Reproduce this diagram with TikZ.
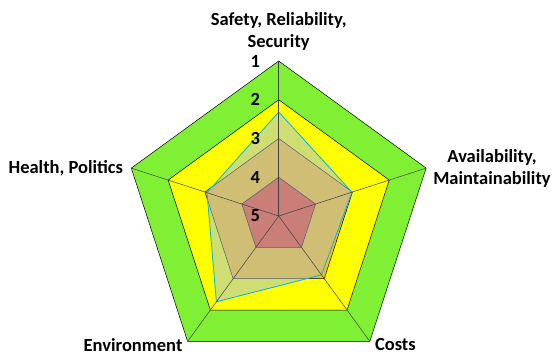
\documentclass[tikz,border=0pt]{standalone}
\usepackage{fontspec}
\setmainfont{Carlito}
\usetikzlibrary{positioning}
\definecolor{bandgreen}{RGB}{128,240,52}
\definecolor{bandyellow}{RGB}{255,255,0}
\definecolor{bandorange}{RGB}{255,192,0}
\definecolor{bandred}{RGB}{245,62,10}
\definecolor{datafill}{RGB}{160,190,230}
\definecolor{dataline}{RGB}{0,176,240}
\tikzset{
  band/.style={draw=black, line width=0.5pt, line join=miter},
  spoke/.style={draw=black!75, line width=0.5pt},
  datapoly/.style={draw=dataline, line width=0.8pt, fill=datafill, fill opacity=0.5},
  axislabel/.style={font=\fontsize{18.5}{22}\selectfont\bfseries, align=center, inner sep=0pt},
  scalenum/.style={font=\fontsize{18.5}{22}\selectfont\bfseries, inner sep=0pt}
}

\begin{document}
\begin{tikzpicture}[x=1pt,y=1pt]
    \useasboundingbox (-278.7,-140) rectangle (274.3,216);

    % level bands, outside in
    \foreach \r/\c in {155/bandgreen, 116.25/bandyellow, 77.5/bandorange, 38.75/bandred}
      \draw[band, fill=\c] (90:\r) -- (18:\r) -- (-54:\r) -- (-126:\r) -- (162:\r) -- cycle;

    % scored profile
    \draw[datapoly] (90:104) -- (18:77) -- (-54:72.8) -- (-126:106) -- (162:75.4) -- cycle;

    % spokes
    \coordinate (o) at (0,0);
    \foreach \a/\n in {90/safety, 18/avail, -54/costs, -126/env, 162/health}{
      \coordinate (\n) at (\a:155);
      \draw[spoke] (o) -- (\n);
    }

    % scale numbers
    \foreach \v/\r in {1/155, 2/116.25, 3/77.5, 4/38.75, 5/0}
      \node (num\v) [scalenum] at (-23.5,\r) {\v};

    % axis labels
    \node (safetylbl) [axislabel, above=10pt of safety] {Safety, Reliability,\\Security};
    \node (availlbl) [axislabel, right=7pt of avail] {Availability,\\Maintainability};
    \node (costslbl) [axislabel, below right=-3pt and 5pt of costs] {Costs};
    \node (envlbl) [axislabel, below left=-2.6pt and 5pt of env] {Environment};
    \node (healthlbl) [axislabel, left=8pt of health] {Health, Politics};
\end{tikzpicture}
\end{document}
